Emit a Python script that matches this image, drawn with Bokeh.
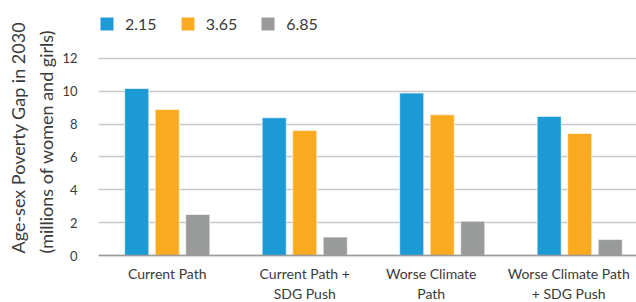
from bokeh.plotting import figure
from bokeh.models import (Range1d, Legend, LegendItem, FixedTicker, ColumnDataSource, Span, Title,
                          CDSView, IndexFilter)
from bokeh.core.properties import value
from bokeh.transform import dodge
from bokeh.embed import file_html
from bokeh.resources import INLINE

categories = ["Current Path", "Current Path +\nSDG Push", "Worse Climate\nPath", "Worse Climate Path\n+ SDG Push"]
series = ["2.15", "3.65", "6.85"]
v215 = [10.17, 8.39, 9.89, 8.47]
v365 = [8.89, 7.61, 8.57, 7.43]
v685 = [2.50, 1.12, 2.09, 0.97]
colors = ["#1b9ad6", "#f9aa1e", "#999b9b"]
yticks = [0, 2, 4, 6, 8, 10, 12]
ytitle_lines = ["Age-sex Poverty Gap in 2030", "(millions of women and girls)"]

xpos = list(range(len(categories)))
src = ColumnDataSource(dict(x=xpos, a=v215, b=v365, c=v685, label=categories, base=[0] * len(xpos)))

FONT = "Lato"
TXT = "#3a3a3a"
p = figure(width=636, height=302, output_backend="svg", toolbar_location=None,
           x_range=Range1d(-0.5, 3.413), y_range=Range1d(-2.862, 15.53),
           min_border_left=98, min_border_right=0, min_border_top=0, min_border_bottom=0)
p.outline_line_color = None
p.background_fill_color = "white"

p.xgrid.grid_line_color = None
p.ygrid.grid_line_color = "#c8c8c8"
p.ygrid.grid_line_width = 1.5

renderers = []
for col, off, c in zip(["a", "b", "c"], [-0.222, 0.0, 0.222], colors):
    r = p.vbar(x=dodge("x", off), top=col, bottom="base", width=0.175, source=src,
               fill_color=c, line_color="#ffffff", line_alpha=0.6, line_width=1)
    renderers.append(r)

p.add_layout(Span(location=0, dimension="width", line_color="#9a9a9a", line_width=1.5))

# category labels under the baseline (the right-hand ones sit a little left, as in the original)
for idx, xoff in (([0, 1], 0), ([2, 3], -11)):
    p.text(x="x", y="base", text="label", source=src, view=CDSView(filter=IndexFilter(idx)),
           text_align="center", text_baseline="top", x_offset=xoff,
           y_offset=9, text_font=value(FONT), text_font_size="14px", text_color=TXT,
           text_line_height=1.22)

legend = Legend(items=[LegendItem(label=s, renderers=[r]) for s, r in zip(series, renderers)],
                orientation="horizontal", location=(0, 269))
legend.label_text_font = FONT
legend.label_text_font_size = "16px"
legend.label_text_color = TXT
legend.glyph_width = 17
legend.glyph_height = 17
legend.label_standoff = 10
legend.spacing = 22
legend.padding = 0
legend.margin = 0
legend.border_line_color = None
legend.background_fill_alpha = 0
legend.label_height = 17
p.add_layout(legend)

p.xaxis.visible = False
p.yaxis.ticker = FixedTicker(ticks=yticks)
p.yaxis.axis_line_color = None
p.yaxis.major_tick_line_color = None
p.yaxis.minor_tick_line_color = None
p.yaxis.major_label_text_font = FONT
p.yaxis.major_label_text_font_size = "13px"
p.yaxis.major_label_text_color = TXT
p.yaxis.major_label_standoff = 15

for i, line in enumerate(reversed(ytitle_lines)):
    t = Title(text=line, align="left", offset=49, standoff=6 if i == 0 else 2,
              text_font=FONT, text_font_size="18px", text_font_style="normal",
              text_color=TXT)
    p.add_layout(t, "left")

open("out.html", "w").write(file_html(p, INLINE))
